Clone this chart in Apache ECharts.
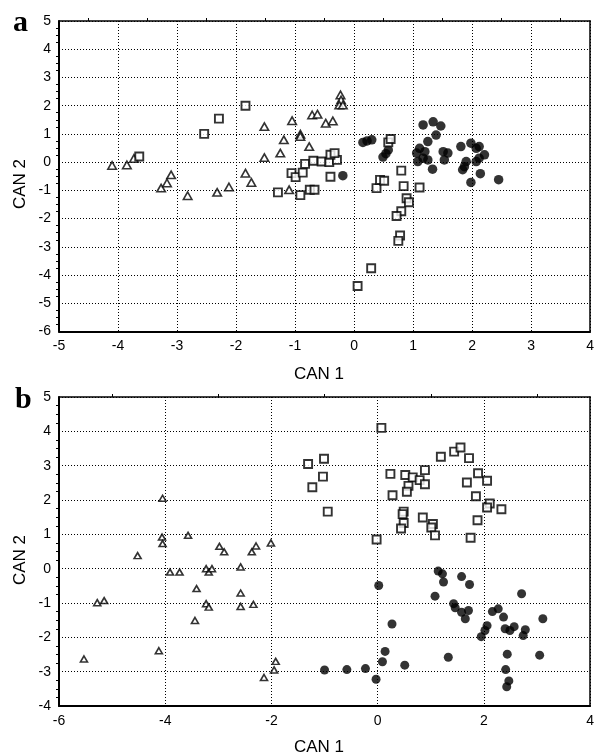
<!DOCTYPE html>
<html>
<head>
<meta charset="utf-8">
<script src="https://cdn.jsdelivr.net/npm/echarts@6/dist/echarts.min.js"></script>
<style>html,body{margin:0;padding:0;background:#fff}#c{width:597px;height:756px}</style>
</head>
<body>
<div id="c"></div>
<script>
// Panel a
const aTriangles = [[-4.10,-0.12],[-3.85,-0.10],[-3.73,0.13],[-3.10,-0.45],[-3.27,-0.92],[-3.17,-0.74],[-2.82,-1.19],[-2.32,-1.07],[-2.12,-0.88],[-1.84,-0.39],[-1.74,-0.72],[-1.52,0.16],[-1.52,1.26],[-1.25,0.32],[-1.19,0.79],[-1.05,1.47],[-1.10,-0.98],[-0.91,0.99],[-0.91,0.91],[-0.76,0.55],[-0.71,1.67],[-0.62,1.70],[-0.48,1.38],[-0.36,1.46],[-0.23,2.38],[-0.22,2.20],[-0.25,2.02],[-0.19,2.02]];
const aSquares = [[-3.64,0.20],[-2.54,1.00],[-2.29,1.54],[-1.84,2.00],[-1.29,-1.07],[-1.06,-0.39],[-0.99,-0.53],[-0.87,-0.37],[-0.91,-1.17],[-0.75,-0.98],[-0.67,-0.98],[-0.83,-0.06],[-0.69,0.05],[-0.55,0.02],[-0.42,0.00],[-0.29,0.08],[-0.40,0.26],[-0.33,0.32],[-0.40,-0.52],[0.38,-0.92],[0.44,-0.63],[0.51,-0.66],[0.58,0.70],[0.62,0.82],[0.80,-0.30],[0.84,-0.85],[1.11,-0.90],[0.89,-1.28],[0.93,-1.42],[0.80,-1.74],[0.72,-1.91],[0.78,-2.60],[0.75,-2.79],[0.29,-3.76],[0.06,-4.39]];
const aCircles = [[0.15,0.70],[0.22,0.75],[0.30,0.79],[0.49,0.18],[0.54,0.30],[0.58,0.43],[-0.19,-0.48],[1.17,1.32],[1.34,1.43],[1.47,1.28],[1.39,0.96],[1.25,0.73],[1.11,0.49],[1.06,0.32],[1.20,0.37],[1.17,0.14],[1.08,0.02],[1.25,0.08],[1.33,-0.25],[1.51,0.37],[1.59,0.32],[1.53,0.08],[1.81,0.55],[1.98,0.67],[2.07,0.49],[2.12,0.55],[1.90,0.02],[1.87,-0.16],[1.84,-0.27],[2.12,0.14],[2.21,0.26],[2.07,0.02],[2.14,-0.41],[1.98,-0.72],[2.45,-0.62]];
// Panel b
const bTriangles = [[-4.05,2.05],[-4.06,0.92],[-4.05,0.73],[-3.57,0.97],[-2.98,0.65],[-2.89,0.49],[-2.37,0.49],[-2.29,0.66],[-2.01,0.75],[-4.52,0.38],[-3.91,-0.10],[-3.73,-0.10],[-3.23,0.00],[-3.18,-0.10],[-3.12,0.00],[-2.58,0.05],[-3.41,-0.58],[-2.58,-0.71],[-3.23,-1.02],[-3.18,-1.12],[-2.58,-1.10],[-2.34,-1.04],[-5.28,-0.99],[-5.15,-0.93],[-3.44,-1.51],[-5.53,-2.63],[-4.12,-2.39],[-1.92,-2.70],[-1.95,-2.95],[-2.14,-3.17]];
const bSquares = [[0.07,4.10],[-1.31,3.05],[-1.01,3.20],[-1.03,2.68],[-1.23,2.37],[-0.94,1.66],[0.24,2.76],[0.52,2.73],[0.66,2.66],[0.79,2.58],[0.89,2.87],[0.89,2.46],[0.58,2.41],[0.55,2.24],[0.28,2.14],[1.19,3.26],[1.44,3.41],[1.56,3.53],[1.72,3.22],[1.89,2.78],[2.06,2.56],[1.68,2.51],[1.85,2.11],[2.11,1.90],[2.06,1.78],[2.33,1.73],[1.88,1.41],[1.75,0.90],[0.49,1.66],[0.47,1.59],[0.49,1.33],[0.44,1.17],[0.85,1.49],[1.04,1.30],[1.01,1.20],[1.08,0.97],[-0.02,0.85]];
const bCircles = [[1.14,-0.07],[1.22,-0.15],[1.24,-0.39],[1.58,-0.23],[1.73,-0.46],[0.02,-0.49],[1.08,-0.80],[1.43,-1.02],[1.46,-1.14],[1.58,-1.27],[1.71,-1.22],[1.65,-1.46],[2.71,-0.73],[2.16,-1.25],[2.27,-1.17],[2.37,-1.41],[3.11,-1.46],[2.06,-1.66],[2.02,-1.80],[1.95,-1.98],[2.40,-1.75],[2.49,-1.80],[2.57,-1.69],[2.78,-1.78],[2.74,-1.95],[0.27,-1.61],[0.14,-2.41],[0.09,-2.71],[1.33,-2.58],[2.44,-2.49],[3.05,-2.52],[0.51,-2.81],[-0.23,-2.91],[-0.58,-2.94],[-1.00,-2.95],[-0.03,-3.22],[2.41,-2.94],[2.47,-3.27],[2.43,-3.44]];

const aX = {min:-5, max:4, interval:1};
const aY = {min:-6, max:5, interval:1};
const bX = {min:-6, max:4, interval:2};
const bY = {min:-4, max:5, interval:1};

const FONT = 'Liberation Sans, Arial, sans-serif';
function mkX(idx, r){
  return {type:'value', gridIndex:idx, min:r.min, max:r.max, interval:r.interval,
    axisLine:{onZero:false, lineStyle:{color:'#000', width:2}},
    axisTick:{show:false},
    axisLabel:{color:'#000', fontSize:14, fontFamily:FONT, margin:8},
    splitLine:{show:true, lineStyle:{color:'#000', type:[1,2], width:1}}};
}
function mkY(idx, r){
  return {type:'value', gridIndex:idx, min:r.min, max:r.max, interval:r.interval,
    axisLine:{onZero:false, lineStyle:{color:'#000', width:2}},
    axisTick:{show:false},
    minorTick:{show:true, splitNumber:4, length:3, lineStyle:{color:'#000'}},
    axisLabel:{color:'#000', fontSize:14, fontFamily:FONT, margin:8},
    splitLine:{show:true, lineStyle:{color:'#000', type:[1,2], width:1}}};
}
function mkTopX(idx, r){
  return {type:'value', gridIndex:idx, position:'top', min:r.min, max:r.max, interval:r.interval,
    axisLine:{onZero:false, lineStyle:{color:'#000', width:1.5}},
    axisTick:{show:false},
    minorTick:{show:true, splitNumber:2, length:3, lineStyle:{color:'#000'}},
    axisLabel:{show:false}, splitLine:{show:false}};
}
function mkRightY(idx, r){
  return {type:'value', gridIndex:idx, position:'right', min:r.min, max:r.max, interval:r.interval,
    axisLine:{onZero:false, lineStyle:{color:'#000', width:1.5}},
    axisTick:{show:false}, axisLabel:{show:false}, splitLine:{show:false}};
}
function sc(data, xi, yi, kind, size){
  const s = {type:'scatter', xAxisIndex:xi, yAxisIndex:yi, data:data, symbolSize:size, animation:false, silent:true};
  if(kind==='circle'){ s.symbol='circle'; s.itemStyle={color:'#000'}; }
  else if(kind==='rect'){ s.symbol='rect'; s.itemStyle={color:'#fff', borderColor:'#000', borderWidth:1.9}; }
  else { s.symbol='triangle'; s.itemStyle={color:'#fff', borderColor:'#000', borderWidth:1.6}; }
  return s;
}

const chart = echarts.init(document.getElementById('c'), null, {renderer:'canvas'});
chart.setOption({
  backgroundColor:'#fff',
  animation:false,
  grid:[
    {left:59, top:21, width:534, height:310.5, show:false},
    {left:59, top:397, width:534, height:309, show:false}
  ],
  xAxis:[mkX(0,aX), mkX(1,bX), mkTopX(0,aX), mkTopX(1,bX)],
  yAxis:[mkY(0,aY), mkY(1,bY), mkRightY(0,aY), mkRightY(1,bY)],
  series:[
    sc(aCircles,0,0,'circle',9.5),
    sc(aTriangles,0,0,'triangle',[8.5,7.5]),
    sc(aSquares,0,0,'rect',8),
    sc(bCircles,1,1,'circle',9),
    sc(bTriangles,1,1,'triangle',[7,6]),
    sc(bSquares,1,1,'rect',8)
  ],
  graphic:[
    {type:'text', left:13, top:8, style:{text:'a', font:'bold 30px "Liberation Serif", "DejaVu Serif", serif', fill:'#000'}},
    {type:'text', left:15, top:385, style:{text:'b', font:'bold 30px "Liberation Serif", "DejaVu Serif", serif', fill:'#000'}},
    {type:'text', x:319, y:374, style:{text:'CAN 1', font:'17px '+FONT, fill:'#000', textAlign:'center', textVerticalAlign:'middle'}},
    {type:'text', x:319, y:747, style:{text:'CAN 1', font:'17px '+FONT, fill:'#000', textAlign:'center', textVerticalAlign:'middle'}},
    {type:'text', x:20, y:184, rotation:Math.PI/2, style:{text:'CAN 2', font:'17px '+FONT, fill:'#000', textAlign:'center', textVerticalAlign:'middle'}},
    {type:'text', x:20, y:560, rotation:Math.PI/2, style:{text:'CAN 2', font:'17px '+FONT, fill:'#000', textAlign:'center', textVerticalAlign:'middle'}}
  ]
});
</script>
</body>
</html>
